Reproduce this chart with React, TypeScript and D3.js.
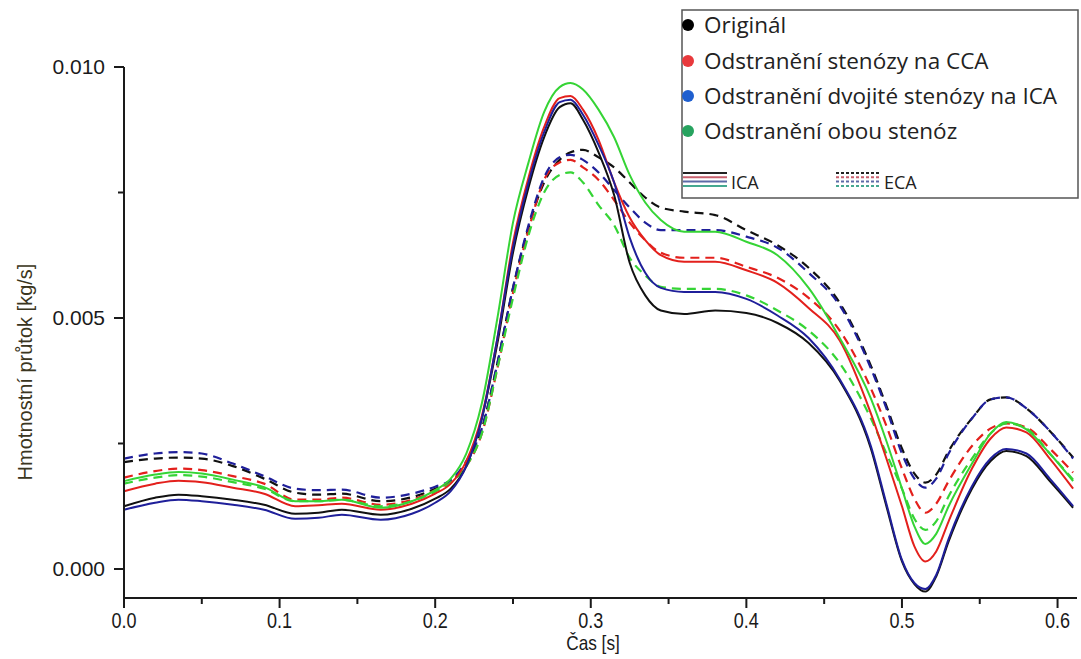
import React from "react";
import * as d3 from "d3";

// time samples [s]
const times = [0, 0.02, 0.035, 0.05, 0.07, 0.09, 0.11, 0.125, 0.14, 0.165, 0.185, 0.2, 0.21, 0.22, 0.23, 0.24, 0.25, 0.26, 0.27, 0.28, 0.287, 0.295, 0.305, 0.315, 0.325, 0.335, 0.345, 0.36, 0.38, 0.4, 0.42, 0.44, 0.46, 0.48, 0.49, 0.5, 0.508, 0.515, 0.522, 0.53, 0.545, 0.557, 0.567, 0.58, 0.595, 0.61];

// mass flow values in units of 1e-3 kg/s
const UNIT = 1e-3;
const originalICA = [1.25, 1.42, 1.48, 1.45, 1.38, 1.28, 1.1, 1.12, 1.18, 1.08, 1.2, 1.4, 1.6, 2.05, 3.0, 4.5, 6.3, 7.6, 8.6, 9.2, 9.28, 8.95, 8.3, 7.45, 6.1, 5.45, 5.15, 5.08, 5.15, 5.1, 4.9, 4.5, 3.75, 2.4, 1.25, 0.15, -0.3, -0.45, -0.15, 0.55, 1.6, 2.15, 2.35, 2.25, 1.75, 1.22];
const ccaICA = [1.55, 1.7, 1.76, 1.73, 1.62, 1.5, 1.25, 1.27, 1.3, 1.18, 1.3, 1.5, 1.7, 2.15, 3.05, 4.6, 6.5, 7.8, 8.8, 9.38, 9.42, 9.15, 8.55, 7.7, 7.0, 6.55, 6.25, 6.12, 6.12, 5.95, 5.7, 5.2, 4.55, 3.1, 2.2, 1.25, 0.45, 0.15, 0.35, 0.95, 2.0, 2.6, 2.82, 2.72, 2.2, 1.6];
const icaICA = [1.18, 1.32, 1.38, 1.35, 1.28, 1.18, 1.0, 1.02, 1.08, 0.98, 1.1, 1.32, 1.55, 2.05, 3.0, 4.6, 6.4, 7.7, 8.7, 9.3, 9.35, 9.05, 8.45, 7.7, 6.6, 5.9, 5.6, 5.52, 5.52, 5.38, 5.05, 4.6, 3.78, 2.45, 1.3, 0.18, -0.28, -0.4, -0.12, 0.6, 1.65, 2.2, 2.39, 2.3, 1.8, 1.25];
const bothICA = [1.75, 1.88, 1.93, 1.9, 1.78, 1.63, 1.35, 1.35, 1.38, 1.22, 1.35, 1.57, 1.8, 2.3, 3.3, 5.0, 6.9, 8.1, 9.1, 9.6, 9.68, 9.55, 9.15, 8.6, 7.85, 7.3, 6.95, 6.72, 6.72, 6.52, 6.25, 5.6, 4.6, 3.4, 2.55, 1.6, 0.85, 0.5, 0.7, 1.25, 2.1, 2.7, 2.93, 2.78, 2.3, 1.75];

const originalECA = [2.13, 2.2, 2.22, 2.2, 2.05, 1.8, 1.52, 1.48, 1.5, 1.35, 1.43, 1.6, 1.75, 2.1, 2.8, 4.1, 5.6, 6.8, 7.7, 8.15, 8.3, 8.35, 8.2, 8.0, 7.7, 7.4, 7.2, 7.12, 7.05, 6.75, 6.45, 6.0, 5.3, 4.05, 3.25, 2.4, 1.9, 1.72, 1.88, 2.35, 3.0, 3.38, 3.42, 3.2, 2.75, 2.22];
const ccaECA = [1.82, 1.95, 2.0, 1.97, 1.85, 1.7, 1.38, 1.38, 1.42, 1.28, 1.38, 1.57, 1.75, 2.05, 2.7, 4.0, 5.5, 6.75, 7.75, 8.1, 8.15, 8.0, 7.75, 7.35, 6.9, 6.55, 6.3, 6.2, 6.2, 6.02, 5.8, 5.4, 4.75, 3.6, 2.85, 2.0, 1.4, 1.12, 1.3, 1.75, 2.45, 2.8, 2.9, 2.82, 2.4, 1.92];
const icaECA = [2.2, 2.3, 2.33, 2.3, 2.1, 1.85, 1.6, 1.57, 1.58, 1.42, 1.5, 1.64, 1.77, 2.15, 2.8, 4.1, 5.6, 6.85, 7.8, 8.2, 8.25, 8.15, 7.9, 7.55, 7.2, 6.9, 6.75, 6.75, 6.75, 6.62, 6.4, 5.9, 5.25, 4.0, 3.2, 2.3, 1.8, 1.62, 1.8, 2.3, 3.0, 3.38, 3.42, 3.2, 2.75, 2.2];
const bothECA = [1.7, 1.82, 1.87, 1.84, 1.73, 1.6, 1.35, 1.35, 1.38, 1.25, 1.35, 1.54, 1.72, 2.05, 2.7, 4.0, 5.4, 6.65, 7.5, 7.85, 7.9, 7.7, 7.25, 6.85, 6.2, 5.85, 5.62, 5.58, 5.58, 5.45, 5.15, 4.75, 4.1, 3.0, 2.3, 1.6, 1.0, 0.78, 0.95, 1.45, 2.2, 2.7, 2.9, 2.8, 2.3, 1.78];

const legendLabels = ["Originál", "Odstranění stenózy na CCA", "Odstranění dvojité stenózy na ICA", "Odstranění obou stenóz"];
const legendDotColors = ["#000000", "#e8393c", "#1f5fcf", "#27a35f"];
const lineColors = ["#111111", "#e3201c", "#1f1f9a", "#35d435"];
const legendSampleColors = ["#222222", "#c8606e", "#5c6aa6", "#45a890"];

const xTicks = [0, 0.1, 0.2, 0.3, 0.4, 0.5, 0.6];
const xMinorTicks = [0.05, 0.15, 0.25, 0.35, 0.45, 0.55];
const yTicks = [0, 0.005, 0.01];
const yMinorTicks = [0.0025, 0.0075];

const W = 1081, H = 659;

export default function App() {
  const x = d3.scaleLinear().domain([0, 0.6125]).range([124, 1077]);
  const y = d3.scaleLinear().domain([-0.000578, 0.01]).range([598, 67]);
  const line = d3
    .line<[number, number]>()
    .x((d) => x(d[0]))
    .y((d) => y(d[1] * UNIT))
    .curve(d3.curveMonotoneX);
  const toPts = (vals: number[]) => times.map((t, i) => [t, vals[i]] as [number, number]);

  const solid = [originalICA, ccaICA, icaICA, bothICA];
  const dashed = [originalECA, ccaECA, icaECA, bothECA];

  const tickFont = "'Liberation Sans', Arial, sans-serif";
  const legendFont = "'Open Sans', 'Noto Sans', sans-serif";

  const lx = 682, ly = 10, lw = 396, lh = 188;
  const rowY = [25, 61, 96, 131];

  return (
    <svg width={W} height={H} style={{ position: "absolute", left: 0, top: 0, background: "#fff" }}>
      <rect x={0} y={0} width={W} height={H} fill="#fff" />
      {/* data lines */}
      <g fill="none">
        {dashed.map((s, i) => (
          <path key={"d" + i} d={line(toPts(s)) || ""} stroke={lineColors[i]} strokeWidth={2.2} strokeDasharray="9,6" />
        ))}
        {solid.map((s, i) => (
          <path key={"s" + i} d={line(toPts(s)) || ""} stroke={lineColors[i]} strokeWidth={2} />
        ))}
      </g>

      {/* axes */}
      <g stroke="#1a1a1a" strokeWidth={2} fill="none">
        <line x1={x(0)} x2={x(0)} y1={y(0.01)} y2={598} />
        <line x1={x(0)} x2={1077} y1={598} y2={598} />
        {xTicks.map((t) => (
          <line key={"xt" + t} x1={x(t)} x2={x(t)} y1={598} y2={608} />
        ))}
        {xMinorTicks.map((t) => (
          <line key={"xm" + t} x1={x(t)} x2={x(t)} y1={598} y2={604} />
        ))}
        {yTicks.map((t) => (
          <line key={"yt" + t} x1={x(0) - 10} x2={x(0)} y1={y(t)} y2={y(t)} />
        ))}
        {yMinorTicks.map((t) => (
          <line key={"ym" + t} x1={x(0) - 6} x2={x(0)} y1={y(t)} y2={y(t)} />
        ))}
      </g>
      <g fontFamily={tickFont} fill="#1a1a1a">
        {xTicks.map((t) => (
          <text key={"xl" + t} transform={`translate(${x(t)}, 628) scale(0.82, 1)`} textAnchor="middle" fontSize={22}>
            {d3.format(".1f")(t)}
          </text>
        ))}
        {yTicks.map((t) => (
          <text key={"yl" + t} x={105} y={y(t) + 7} textAnchor="end" fontSize={21}>
            {d3.format(".3f")(t)}
          </text>
        ))}
        <text transform="translate(593, 650) scale(0.82, 1)" textAnchor="middle" fontSize={21}>Čas [s]</text>
        <text transform={`translate(32, 372) rotate(-90)`} textAnchor="middle" fontSize={20} fill="#3a3520">
          Hmotnostní průtok [kg/s]
        </text>
      </g>

      {/* legend */}
      <g>
        <rect x={lx} y={ly} width={lw} height={lh} fill="#fff" stroke="#555" strokeWidth={1.5} />
        {legendLabels.map((lab, i) => (
          <g key={lab}>
            <circle cx={688} cy={rowY[i]} r={6} fill={legendDotColors[i]} />
            <text x={704} y={rowY[i] + 8} fontFamily={legendFont} fontSize={22.5} fill="#222">
              {lab}
            </text>
          </g>
        ))}
        {legendSampleColors.map((c, i) => (
          <g key={"ls" + i}>
            <line x1={683} x2={727} y1={173 + i * 4.3} y2={173 + i * 4.3} stroke={c} strokeWidth={2} />
            <line x1={836} x2={881} y1={173 + i * 4.3} y2={173 + i * 4.3} stroke={c} strokeWidth={2} strokeDasharray="3,2" />
          </g>
        ))}
        <text x={731} y={189} fontFamily={legendFont} fontSize={18} fill="#222">ICA</text>
        <text x={884} y={189} fontFamily={legendFont} fontSize={18} fill="#222">ECA</text>
      </g>
    </svg>
  );
}
